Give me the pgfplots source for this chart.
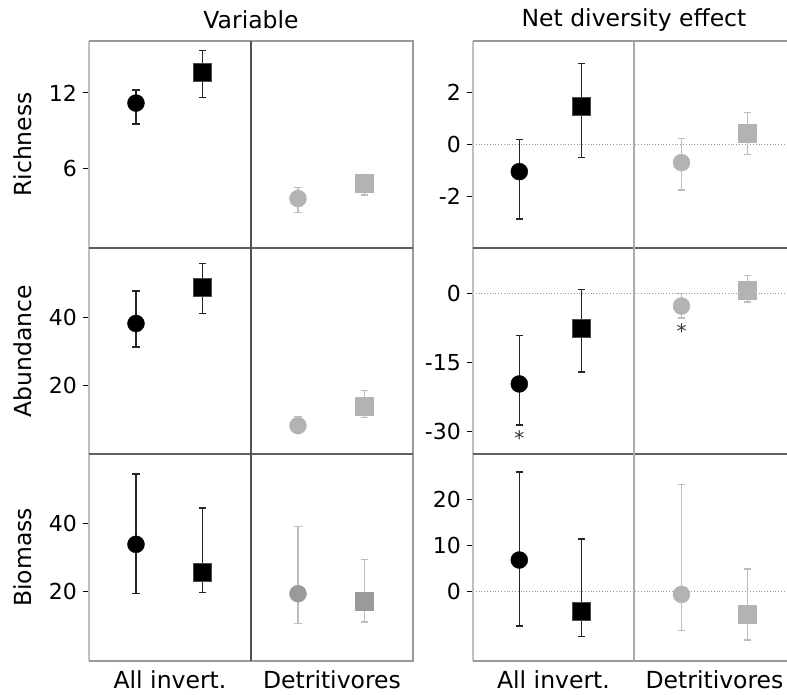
\documentclass[border=0pt]{standalone}
\usepackage{pgfplots}
\pgfplotsset{compat=1.18}
\usepackage{fontspec}
\setmainfont{DejaVu Sans}
\definecolor{lg}{HTML}{B3B3B3}
\definecolor{lgbar}{HTML}{BDBDBD}
\definecolor{mg}{HTML}{9A9A9A}
\pgfplotsset{
  panel/.style={scale only axis, width=324pt, height=207pt, xmin=0, xmax=4,
    anchor=north west, axis line style={draw=none}, xtick=\empty,
    ytick pos=left, tick align=outside, major tick length=6pt,
    ytick style={black, line width=0.9pt},
    yticklabel style={font=\fontsize{22}{22}\selectfont, inner sep=0pt, xshift=-6pt},
    /pgf/number format/assume math mode=true},
  bottomrow/.style={xtick={1,3}, xticklabels={All invert., Detritivores},
    x tick style={draw=none},
    xticklabel style={font=\fontsize{23.5}{23.5}\selectfont, anchor=base, inner sep=0pt, yshift=-22pt}},
  errs/.style={error bars/.cd, y dir=both, y explicit, error mark=-,
    error mark options={rotate=90, mark size=3.6pt, line width=1.3pt, #1},
    error bar style={line width=1.3pt, #1}},
  bc/.style={only marks, mark=*, mark size=8.5pt, color=black, mark options={fill=black, draw=black}, errs={black!85}},
  bs/.style={only marks, mark=square*, mark size=9pt, color=black, mark options={fill=black, draw=black!70}, errs={black!85}},
  gc/.style={only marks, mark=*, mark size=8.5pt, color=lg, mark options={fill=#1, draw=#1}, errs={lgbar}},
  gs/.style={only marks, mark=square*, mark size=9pt, color=lg, mark options={fill=#1, draw=#1}, errs={lgbar}},
  zeroline/.style={black!40, dotted, line width=0.8pt, forget plot},
}
\begin{document}
\begin{tikzpicture}[x=1pt,y=1pt,font=\fontsize{23.5}{27}\selectfont]
\useasboundingbox (0,0) rectangle (787,695);
% ---------- Variable column ----------
\begin{axis}[panel, at={(89pt,654pt)}, height=207pt, ymin=-0.24, ymax=16.1, ytick={6,12}]
\addplot[bc] coordinates {(0.58,11.2) += (0,1.04) -= (0,1.65)};
\addplot[bs] coordinates {(1.40,13.6) += (0,1.74) -= (0,1.94)};
\addplot[gc=lg] coordinates {(2.58,3.66) += (0,0.86) -= (0,1.08)};
\addplot[gs=lg] coordinates {(3.40,4.87) += (0,0.6) -= (0,0.92)};
\end{axis}
\begin{axis}[panel, at={(89pt,447pt)}, height=206pt, ymin=0, ymax=60.3, ytick={20,40}]
\addplot[bc] coordinates {(0.58,38.2) += (0,9.5) -= (0,6.9)};
\addplot[bs] coordinates {(1.40,48.7) += (0,7.1) -= (0,7.5)};
\addplot[gc=lg] coordinates {(2.58,8.3) += (0,2.6) -= (0,2.0)};
\addplot[gs=lg] coordinates {(3.40,14.1) += (0,4.5) -= (0,3.5)};
\end{axis}
\begin{axis}[panel, bottomrow, at={(89pt,241pt)}, height=207pt, ymin=-0.3, ymax=60.3, ytick={20,40}]
\addplot[bc] coordinates {(0.58,33.85) += (0,20.55) -= (0,14.45)};
\addplot[bs] coordinates {(1.40,25.7) += (0,18.8) -= (0,5.9)};
\addplot[gc=mg] coordinates {(2.58,19.4) += (0,19.6) -= (0,8.8)};
\addplot[gs=mg] coordinates {(3.40,17.1) += (0,12.3) -= (0,6.0)};
\end{axis}
% ---------- Net diversity effect column ----------
\begin{axis}[panel, at={(473pt,654pt)}, width=322pt, height=207pt, ymin=-4, ymax=4, ytick={-2,0,2}]
\addplot[zeroline] coordinates {(0,0) (4,0)};
\addplot[bc] coordinates {(0.575,-1.05) += (0,1.24) -= (0,1.83)};
\addplot[bs] coordinates {(1.35,1.48) += (0,1.65) -= (0,1.97)};
\addplot[gc=lg] coordinates {(2.59,-0.7) += (0,0.93) -= (0,1.06)};
\addplot[gs=lg] coordinates {(3.41,0.44) += (0,0.8) -= (0,0.83)};
\end{axis}
\begin{axis}[panel, at={(473pt,447pt)}, width=322pt, height=206pt, ymin=-34.8, ymax=9.9, ytick={-30,-15,0}]
\addplot[zeroline] coordinates {(0,0) (4,0)};
\addplot[bc] coordinates {(0.575,-19.6) += (0,10.5) -= (0,8.9)};
\addplot[bs] coordinates {(1.35,-7.5) += (0,8.45) -= (0,9.5)};
\addplot[gc=lg] coordinates {(2.59,-2.7) += (0,2.65) -= (0,2.6)};
\addplot[gs=lg] coordinates {(3.41,0.8) += (0,3.1) -= (0,2.6)};
\node[font=\fontsize{20}{20}\selectfont, black!80] at (axis cs:0.575,-31.3) {*};
\node[font=\fontsize{20}{20}\selectfont, black!80] at (axis cs:2.59,-8.1) {*};
\end{axis}
\begin{axis}[panel, bottomrow, at={(473pt,241pt)}, width=322pt, height=207pt, ymin=-15.1, ymax=30, ytick={0,10,20}]
\addplot[zeroline] coordinates {(0,0) (4,0)};
\addplot[bc] coordinates {(0.575,6.9) += (0,19.2) -= (0,14.4)};
\addplot[bs] coordinates {(1.35,-4.2) += (0,15.7) -= (0,5.6)};
\addplot[gc=lg] coordinates {(2.59,-0.6) += (0,23.9) -= (0,7.8)};
\addplot[gs=lg] coordinates {(3.41,-4.8) += (0,9.75) -= (0,5.7)};
\end{axis}
% ---------- frames ----------
\begin{scope}[line width=1.2pt]
\draw[black!25] (89,654) -- (89,34);
\draw[black!40] (89,654) -- (413,654) -- (413,34) -- (89,34);
\draw[black!62] (89,447) -- (413,447) (89,241) -- (413,241);
\draw[black!68] (251,654) -- (251,34);
\draw[black!25] (473,654) -- (473,34);
\draw[black!40] (473,654) -- (795,654) -- (795,34) -- (473,34);
\draw[black!62] (473,447) -- (795,447) (473,241) -- (795,241);
\draw[black!33] (634,654) -- (634,34);
\end{scope}
% ---------- titles and labels ----------
\node at (251,675) {Variable};
\node at (634,675) {Net diversity effect};
\node[rotate=90] at (23,550.5) {Richness};
\node[rotate=90] at (23,344) {Abundance};
\node[rotate=90] at (23,137.5) {Biomass};
\end{tikzpicture}
\end{document}
